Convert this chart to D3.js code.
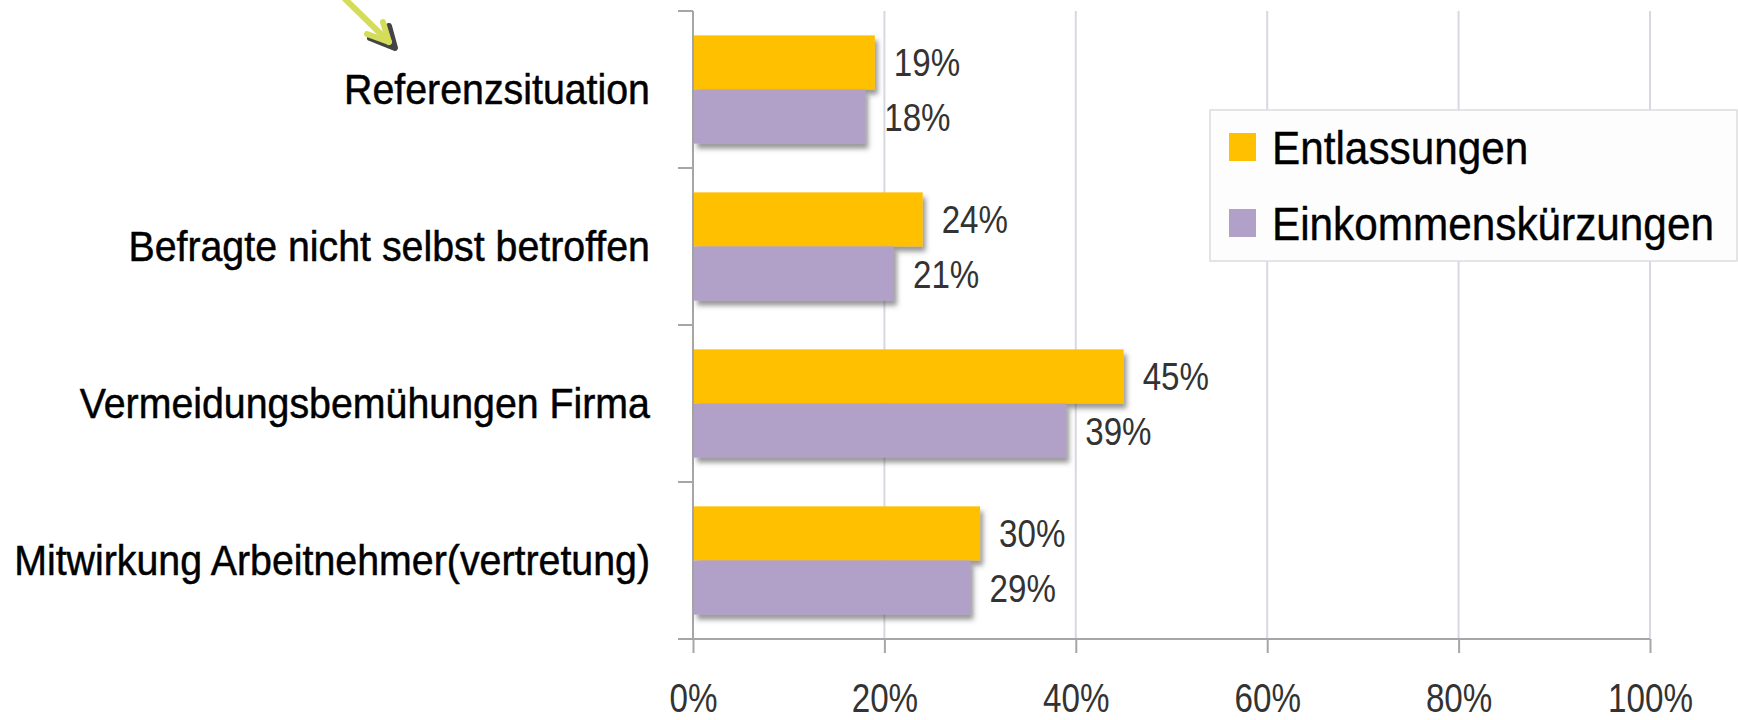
<!DOCTYPE html>
<html>
<head>
<meta charset="utf-8">
<script src="https://cdn.jsdelivr.net/npm/d3@7"></script>
<style>
  body { margin: 0; background: #fff; }
  svg { display: block; font-family: "Liberation Sans", Arial, sans-serif; }
</style>
</head>
<body>
<div id="chart"></div>
<script>
// Chart data
var categories = [
  "Referenzsituation",
  "Befragte nicht selbst betroffen",
  "Vermeidungsbemühungen Firma",
  "Mitwirkung Arbeitnehmer(vertretung)"
];
var seriesNames = ["Entlassungen", "Einkommenskürzungen"];
var entlassungen = [19, 24, 45, 30];
var einkommenskuerzungen = [18, 21, 39, 29];
var tickValues = [0, 20, 40, 60, 80, 100];

var colors = ["#ffc000", "#b1a0c7"];

function init() {
  var w = 1738, h = 720;
  var left = 693, right = 1650, top = 11, bottom = 639;

  var svg = d3.select("#chart").append("svg")
      .attr("width", w)
      .attr("height", h);

  // shadow under the bars
  var defs = svg.append("defs");
  defs.append("filter")
      .attr("id", "shadow")
      .attr("x", "-5%").attr("y", "-20%")
      .attr("width", "115%").attr("height", "160%")
    .append("feDropShadow")
      .attr("dx", 3).attr("dy", 5)
      .attr("stdDeviation", 2.5)
      .attr("flood-color", "#444")
      .attr("flood-opacity", 0.55);

  // squeeze text horizontally, the original fonts are narrow
  function squeeze(sel, ratio) {
    sel.each(function() {
      var len = this.getComputedTextLength();
      d3.select(this)
        .attr("textLength", len * ratio)
        .attr("lengthAdjust", "spacingAndGlyphs");
    });
  }

  var x = d3.scaleLinear().domain([0, 100]).range([left, right]);
  var y = d3.scaleBand().domain(categories).range([top, bottom]);
  var y1 = d3.scaleBand().domain(seriesNames).range([0, y.bandwidth()]).paddingOuter(0.45);

  // vertical gridlines
  svg.append("g").selectAll("line")
      .data(tickValues.slice(1))
      .enter().append("line")
      .attr("x1", function(d) { return x(d); })
      .attr("x2", function(d) { return x(d); })
      .attr("y1", top)
      .attr("y2", bottom)
      .attr("stroke", "#d8d8e2")
      .attr("stroke-width", 2);

  // x axis
  var xAxis = svg.append("g")
      .attr("transform", "translate(0," + bottom + ")")
      .call(d3.axisBottom(x)
        .tickValues(tickValues)
        .tickFormat(function(d) { return d + "%"; })
        .tickSize(14)
        .tickSizeOuter(0));
  xAxis.select(".domain").remove();
  xAxis.selectAll(".tick line").attr("stroke", "#a6a6a6").attr("stroke-width", 2);
  xAxis.selectAll(".tick text")
      .attr("y", 73)
      .attr("dy", 0)
      .attr("fill", "#333")
      .attr("font-size", 40)
      .call(squeeze, 0.83);
  svg.append("line")
      .attr("x1", left - 15).attr("x2", right)
      .attr("y1", bottom).attr("y2", bottom)
      .attr("stroke", "#a6a6a6")
      .attr("stroke-width", 2);

  // y axis with ticks on the band edges
  svg.append("line")
      .attr("x1", left).attr("x2", left)
      .attr("y1", top).attr("y2", bottom)
      .attr("stroke", "#a6a6a6")
      .attr("stroke-width", 2);
  var edges = categories.map(function(c) { return y(c); });
  svg.append("g").selectAll("line")
      .data(edges)
      .enter().append("line")
      .attr("x1", left - 15).attr("x2", left)
      .attr("y1", function(d) { return d; })
      .attr("y2", function(d) { return d; })
      .attr("stroke", "#a6a6a6")
      .attr("stroke-width", 2);

  // category labels
  svg.append("g").selectAll("text")
      .data(categories)
      .enter().append("text")
      .attr("x", 650)
      .attr("y", function(d) { return y(d) + y.bandwidth() / 2; })
      .attr("dy", "0.35em")
      .attr("text-anchor", "end")
      .attr("font-size", 42.5)
      .attr("fill", "#000")
      .attr("stroke", "#000")
      .attr("stroke-width", 0.5)
      .text(function(d) { return d; })
      .call(squeeze, 0.925);

  // bars
  var rows = categories.map(function(c, i) {
    return [
      { cat: c, name: seriesNames[0], value: entlassungen[i], color: colors[0] },
      { cat: c, name: seriesNames[1], value: einkommenskuerzungen[i], color: colors[1] }
    ];
  });

  var groups = svg.append("g").selectAll("g")
      .data(rows)
      .enter().append("g")
      .attr("transform", function(d) { return "translate(0," + y(d[0].cat) + ")"; });

  groups.selectAll("rect")
      .data(function(d) { return d; })
      .enter().append("rect")
      .attr("x", x(0) + 1)
      .attr("y", function(d) { return y1(d.name); })
      .attr("width", function(d) { return x(d.value) - x(0) - 1; })
      .attr("height", y1.bandwidth())
      .attr("fill", function(d) { return d.color; })
      .attr("filter", "url(#shadow)");

  groups.selectAll("text")
      .data(function(d) { return d; })
      .enter().append("text")
      .attr("x", function(d) { return x(d.value) + 19; })
      .attr("y", function(d) { return y1(d.name) + y1.bandwidth() / 2; })
      .attr("dy", "0.36em")
      .attr("font-size", 39)
      .attr("fill", "#333")
      .text(function(d) { return d.value + "%"; })
      .call(squeeze, 0.85);

  // legend
  var legend = svg.append("g");
  legend.append("rect")
      .attr("x", 1210).attr("y", 110)
      .attr("width", 527).attr("height", 151)
      .attr("fill", "#fdfdfd")
      .attr("stroke", "#dcdcdc")
      .attr("stroke-width", 1.5);
  var items = legend.selectAll("g.item")
      .data(seriesNames)
      .enter().append("g")
      .attr("class", "item")
      .attr("transform", function(d, i) { return "translate(1229," + (147 + i * 76) + ")"; });
  items.append("rect")
      .attr("y", -14)
      .attr("width", 27).attr("height", 28)
      .attr("fill", function(d, i) { return colors[i]; });
  var legendScale = 0.9;
  items.append("text")
      .attr("transform", "scale(" + legendScale + ",1)")
      .attr("x", 43 / legendScale)
      .attr("dy", "0.36em")
      .attr("font-size", 47)
      .attr("fill", "#000")
      .attr("stroke", "#000")
      .attr("stroke-width", 0.4)
      .text(function(d) { return d; });

  // pointer arrow in the top left corner
  var arrow = svg.append("g")
      .attr("fill", "none")
      .attr("stroke-linecap", "round")
      .attr("stroke-linejoin", "round");
  arrow.append("path")
      .attr("d", "M370,38 L395,48 L389,26")
      .attr("stroke", "#444")
      .attr("stroke-width", 6);
  arrow.append("path")
      .attr("d", "M342,-4 L389,42")
      .attr("stroke", "#d4dd5a")
      .attr("stroke-width", 6);
  arrow.append("path")
      .attr("d", "M367,34 L389,42 L383,22")
      .attr("stroke", "#d4dd5a")
      .attr("stroke-width", 6);
}

window.onload = init;
</script>
</body>
</html>
